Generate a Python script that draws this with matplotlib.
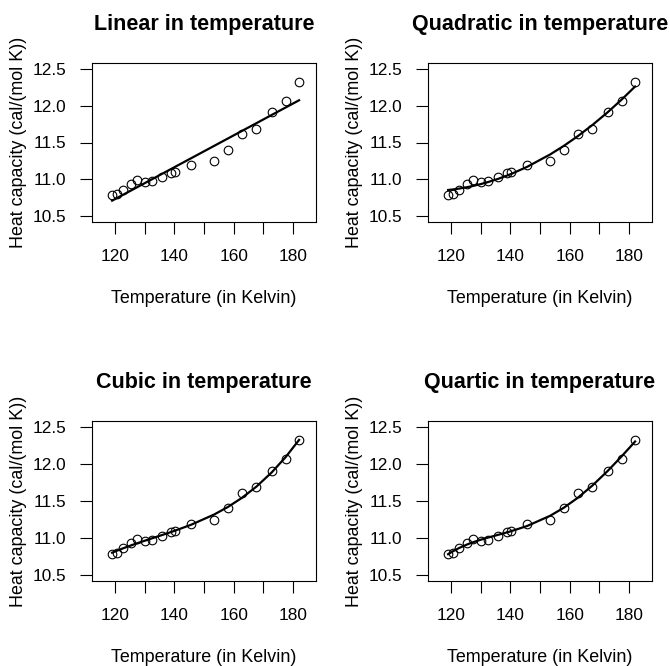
import numpy as np
import matplotlib
matplotlib.use("Agg")
import matplotlib.pyplot as plt

plt.rcParams['font.family'] = ['Liberation Sans', 'DejaVu Sans']

temperature = [118.99, 120.76, 122.71, 125.48, 127.31, 130.06, 132.41, 135.89, 139.02,
               140.25, 145.61, 153.45, 158.03, 162.72, 167.67, 172.86, 177.52, 182.09]
heat_capacity = [10.79, 10.80, 10.86, 10.93, 10.99, 10.96, 10.98, 11.03, 11.08,
                 11.10, 11.19, 11.25, 11.40, 11.61, 11.69, 11.91, 12.07, 12.32]
titles = ["Linear in temperature", "Quadratic in temperature",
          "Cubic in temperature", "Quartic in temperature"]
degrees = [1, 2, 3, 4]
xticks = [120, 130, 140, 150, 160, 170, 180]
xticklabels = ["120", "", "140", "", "160", "", "180"]
yticks = [10.5, 11.0, 11.5, 12.0, 12.5]

x = np.array(temperature)
y = np.array(heat_capacity)
xm = x.mean()

fig = plt.figure(figsize=(6.7, 6.66), dpi=100)
W, H = 670, 666
boxes = [(92, 63, 316, 222), (428, 63, 652, 222), (92, 421, 316, 581), (428, 421, 652, 581)]

for (l, t, r, b), title, deg in zip(boxes, titles, degrees):
    ax = fig.add_axes([l / W, 1 - b / H, (r - l) / W, (b - t) / H])
    coef = np.polyfit(x - xm, y, deg)
    fit = np.polyval(coef, x - xm)
    ax.plot(x, y, 'o', mfc='none', mec='black', ms=6.2, mew=0.8)
    ax.plot(x, fit, '-', color='black', lw=1.6)
    ax.set_xlim(112.2, 187.8)
    ax.set_ylim(10.42, 12.58)
    ax.set_xticks(xticks)
    ax.set_xticklabels(xticklabels)
    ax.set_yticks(yticks)
    ax.set_yticklabels([f"{v:.1f}" for v in yticks])
    ax.tick_params(direction='out', length=8.5, width=0.8, labelsize=12.4, pad=10)
    ax.tick_params(axis='x', pad=11)
    for s in ax.spines.values():
        s.set_linewidth(0.8)
    ax.set_title(title, fontsize=15.5, fontweight='bold', pad=24)
    ax.set_xlabel("Temperature (in Kelvin)", fontsize=12.9, labelpad=18.5)
    ax.set_ylabel("Heat capacity (cal/(mol K))", fontsize=12.9, labelpad=4)

fig.savefig("out.png", dpi=100)
